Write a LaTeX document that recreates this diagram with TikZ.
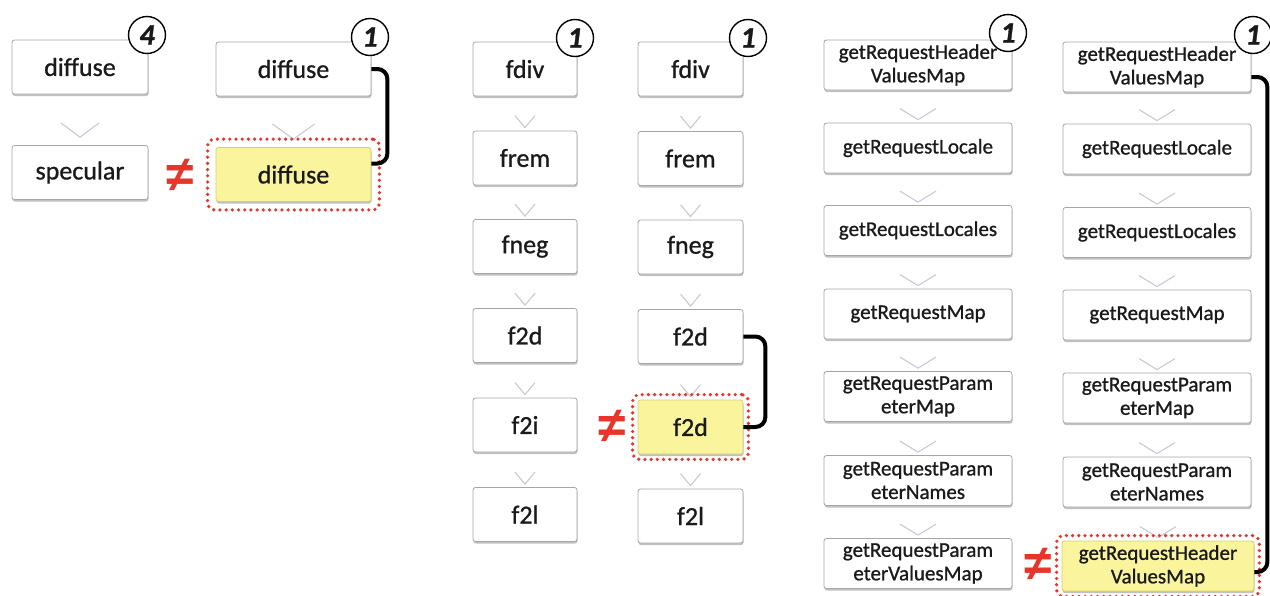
\documentclass[tikz,border=0pt]{standalone}
\usepackage{fontspec}
\setmainfont{Carlito}[FakeBold=1.2]
\newfontfamily\symfont{Liberation Sans}
\newfontfamily\thickfont{Carlito}[FakeBold=0.9]
\usetikzlibrary{calc,fit,shadows}
\definecolor{yelfill}{HTML}{FAF49C}
\definecolor{yeldraw}{HTML}{D8CF6A}
\definecolor{redc}{HTML}{E8352C}
\definecolor{chevc}{HTML}{C9C8DA}
\definecolor{txt}{HTML}{1A1A1A}
\newcommand{\bigf}{\thickfont\fontsize{26}{30}\selectfont}
\newcommand{\smallf}{\thickfont\fontsize{21}{23.5}\selectfont}
\tikzset{
  box/.style={draw=black!35, fill=white, rounded corners=2.5pt, line width=0.8pt,
    drop shadow={shadow xshift=0.5pt, shadow yshift=-2pt, opacity=0.35, fill=black!70},
    text=txt, inner sep=0pt, align=center},
  bbox/.style={box, font=\bigf, minimum height=54pt},
  sbox/.style={box, font=\smallf, minimum height=50pt, minimum width=188pt},
  yel/.style={fill=yelfill, draw=yeldraw},
  hl/.style={draw=redc, line width=3.6pt, dash pattern=on 0pt off 6.2pt, line cap=round,
    rounded corners=7pt, inner sep=6pt},
  chev/.style={draw=chevc, line width=1.1pt},
  conn/.style={draw=black, line width=4pt, rounded corners=10pt},
  cnt/.style={circle, draw=black, fill=white, line width=1.4pt, minimum size=37pt,
    inner sep=0pt, font=\fontsize{30}{30}\selectfont\bfseries\itshape, text=txt},
  neq/.style={text=redc, font=\symfont\bfseries\fontsize{50}{50}\selectfont, inner sep=0pt,
    text height=29pt, text depth=0pt}
}
\begin{document}
\begin{tikzpicture}[x=1pt,y=-1pt]
\useasboundingbox (0,0) rectangle (1270,595);

% ---- column 1 & 2
\node[bbox, minimum width=136pt] (a1) at (80,67) {diffuse};
\node[bbox, minimum width=136pt] (a2) at (80,172.5) {specular};
\node[bbox, minimum width=155pt] (b1) at (293.5,69) {diffuse};
\node[bbox, yel, minimum width=155pt] (b2) at (293.5,174.5) {diffuse};
\draw[chev] ($(a2.north)+(-19,-22)$) -- ($(a2.north)+(0,-8)$) -- ($(a2.north)+(19,-22)$);
\draw[chev] ($(b2.north)+(-21,-23)$) -- ($(b2.north)+(0,-8)$) -- ($(b2.north)+(21,-23)$);
\node[hl, fit=(b2), inner sep=8pt] (hb) {};
\draw[conn] (b1.east) -- ++(16,0) |- ($(b2.east)+(0,-11)$);
\node[cnt] (n1) at (147,35) {4};
\node[cnt] (n2) at (370,37) {1};
\node[neq] (q1) at (180,177) {≠};

% ---- column 3 & 4
\foreach \n/\t/\y in {1/fdiv/69, 2/frem/158, 3/fneg/246.5, 4/f2d/335.5, 5/f2i/425, 6/f2l/514.5}
  \node[bbox, minimum width=104pt] (c\n) at (525,\y) {\t};
\foreach \n/\t/\y in {1/fdiv/69, 2/frem/158.5, 3/fneg/247, 4/f2d/336.5, 6/f2l/516}
  \node[bbox, minimum width=105pt] (d\n) at (690.5,\y) {\t};
\node[bbox, yel, minimum width=105pt] (d5) at (690.5,427) {f2d};
\foreach \n in {2,...,6}{
  \draw[chev] ($(c\n.north)+(-10,-15)$) -- ($(c\n.north)+(0,-3)$) -- ($(c\n.north)+(10,-15)$);
  \draw[chev] ($(d\n.north)+(-10,-15)$) -- ($(d\n.north)+(0,-3)$) -- ($(d\n.north)+(10,-15)$);
}
\node[hl, fit=(d5), inner sep=5pt] (hd) {};
\draw[conn] (d4.east) -- ++(22,0) |- (d5.east);
\node[cnt] (n3) at (575,38) {1};
\node[cnt] (n4) at (748,38) {1};
\node[neq] (q2) at (612,428) {≠};

% ---- column 5 & 6
\node[sbox] (e1) at (918,65) {getRequestHeader\\ValuesMap};
\node[sbox] (e2) at (918,148) {getRequestLocale};
\node[sbox] (e3) at (918,230.5) {getRequestLocales};
\node[sbox] (e4) at (918,314) {getRequestMap};
\node[sbox] (e5) at (918,396.5) {getRequestParam\\eterMap};
\node[sbox] (e6) at (918,480.5) {getRequestParam\\eterNames};
\node[sbox] (e7) at (918,563.5) {getRequestParam\\eterValuesMap};
\node[sbox] (f1) at (1157,67) {getRequestHeader\\ValuesMap};
\node[sbox] (f2) at (1157,149) {getRequestLocale};
\node[sbox] (f3) at (1157,232.5) {getRequestLocales};
\node[sbox] (f4) at (1157,315) {getRequestMap};
\node[sbox] (f5) at (1157,398) {getRequestParam\\eterMap};
\node[sbox] (f6) at (1157,482) {getRequestParam\\eterNames};
\node[sbox, yel, minimum width=192pt] (f7) at (1158,566) {getRequestHeader\\ValuesMap};
\foreach \n in {2,...,7}{
  \draw[chev] ($(e\n.north)+(-18,-14)$) -- ($(e\n.north)+(0,-3)$) -- ($(e\n.north)+(18,-14)$);
  \draw[chev] ($(f\n.north)+(-18,-14)$) -- ($(f\n.north)+(0,-3)$) -- ($(f\n.north)+(18,-14)$);
}
\node[hl, fit=(f7), inner sep=5pt] (hf) {};
\draw[conn] ($(f1.east)+(0,10)$) -- ++(16,0) |- ($(f7.east)+(0,6)$);
\node[cnt] (n5) at (1008,33) {1};
\node[cnt] (n6) at (1253,35) {1};
\node[neq] (q3) at (1038,566) {≠};
\end{tikzpicture}
\end{document}
